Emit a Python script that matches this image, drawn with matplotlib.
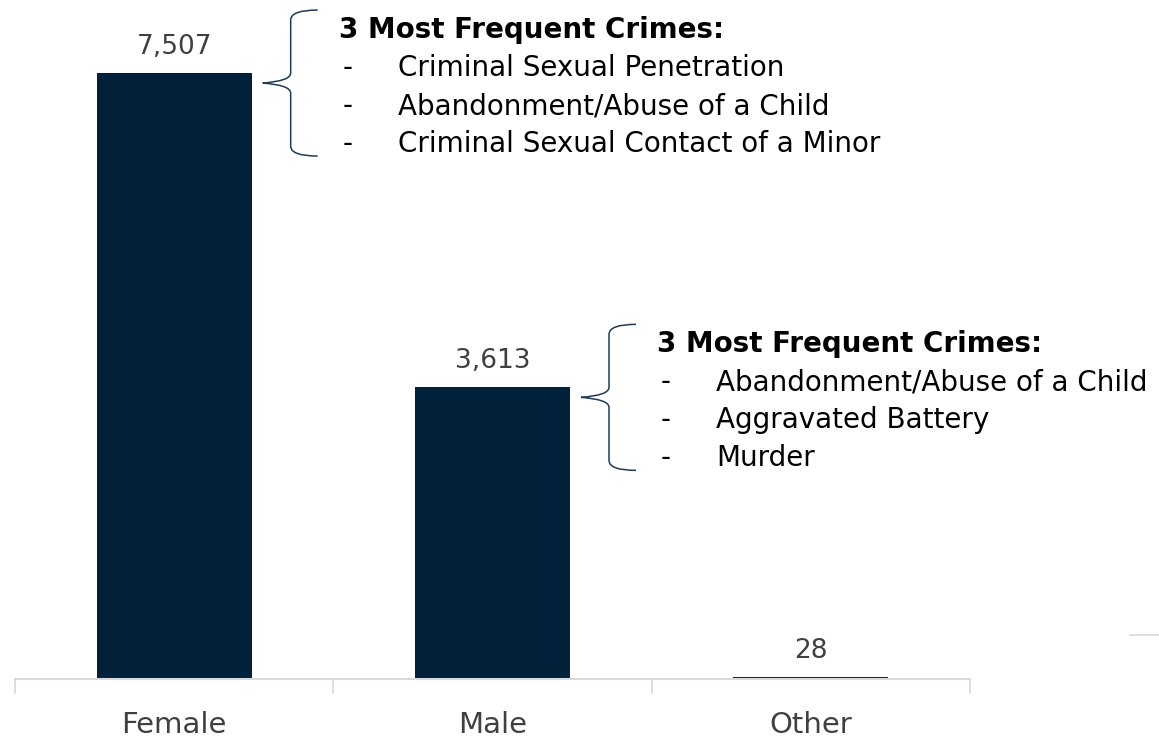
import matplotlib
matplotlib.use("Agg")
import matplotlib.pyplot as plt
from matplotlib.path import Path
from matplotlib.patches import PathPatch
from matplotlib.lines import Line2D

categories = ["Female", "Male", "Other"]
counts = [7507, 3613, 28]
value_labels = ["7,507", "3,613", "28"]
female_crimes = ["Criminal Sexual Penetration",
                 "Abandonment/Abuse of a Child",
                 "Criminal Sexual Contact of a Minor"]
male_crimes = ["Abandonment/Abuse of a Child",
               "Aggravated Battery",
               "Murder"]
callout_title = "3 Most Frequent Crimes:"

BAR_COLOR = "#012039"
BRACE_COLOR = "#1f3a56"
GRID_GREY = "#d9d9d9"
TEXT_GREY = "#404040"

W, H = 1159, 738
fig = plt.figure(figsize=(W / 100, H / 100), dpi=100)
ax = fig.add_axes([15 / W, 59 / H, 955 / W, 679 / H])

ymax = 8412
ax.set_xlim(-0.5, 2.5)
ax.set_ylim(0, ymax)
bar_w = 0.487
xs = range(len(categories))
ax.bar(xs, counts, width=bar_w, color=BAR_COLOR, zorder=1)

# pixel -> data scale factors
px_x = 3.0 / 955
px_y = ymax / 679

for x, v, lab in zip(xs, counts, value_labels):
    ax.text(x, v + 13 * px_y, lab, ha="center", va="bottom",
            fontsize=19, color=TEXT_GREY)

for s in ["top", "right", "left"]:
    ax.spines[s].set_visible(False)
ax.spines["bottom"].set_color(GRID_GREY)
ax.spines["bottom"].set_linewidth(1.5)
ax.spines["bottom"].set_zorder(3)
ax.set_yticks([])
ax.set_xticks(list(xs))
ax.set_xticklabels(categories, fontsize=21, color=TEXT_GREY)
ax.tick_params(axis="x", which="major", length=0, pad=23)
ax.set_xticks([-0.5, 0.5, 1.5, 2.5], minor=True)
ax.tick_params(axis="x", which="minor", length=11, color=GRID_GREY, width=1.2)


def brace(x_tip, y_tip):
    # curly bracket opening to the left: tip at (x_tip, y_tip)
    half = 73 * px_y
    xv = x_tip + 28 * px_x
    xe = x_tip + 55 * px_x
    c = 10
    top = y_tip + half
    bot = y_tip - half
    verts = [
        (xe, top), (xv, top), (xv, top - c * px_y),
        (xv, y_tip + c * px_y), (xv, y_tip + 2 * px_y), (x_tip, y_tip),
        (xv, y_tip - 2 * px_y), (xv, y_tip - c * px_y),
        (xv, bot + c * px_y), (xv, bot), (xe, bot),
    ]
    codes = [Path.MOVETO, Path.CURVE3, Path.CURVE3,
             Path.LINETO, Path.CURVE3, Path.CURVE3,
             Path.CURVE3, Path.CURVE3,
             Path.LINETO, Path.CURVE3, Path.CURVE3]
    ax.add_patch(PathPatch(Path(verts, codes), fill=False,
                           edgecolor=BRACE_COLOR, lw=1.1, clip_on=False))


def callout(i, items):
    bar_right = i + bar_w / 2
    x_tip = bar_right + 11 * px_x
    y_tip = counts[i] - 10 * px_y
    brace(x_tip, y_tip)
    x_title = x_tip + 76 * px_x
    y0 = y_tip + 53 * px_y
    ax.text(x_title, y0, callout_title, fontsize=20, fontweight="bold",
            ha="left", va="center", color="black")
    for k, item in enumerate(items):
        y = y0 - (k + 1) * 38 * px_y
        ax.text(x_title + 4 * px_x, y, "-", fontsize=20, ha="left",
                va="center", color="black")
        ax.text(x_title + 59 * px_x, y, item, fontsize=20, ha="left",
                va="center", color="black")


callout(0, female_crimes)
callout(1, male_crimes)

fig.add_artist(Line2D([1130 / W, 1.0], [1 - 635 / H, 1 - 635 / H],
                      color=GRID_GREY, lw=1.2))

fig.savefig("out.png", dpi=100)
